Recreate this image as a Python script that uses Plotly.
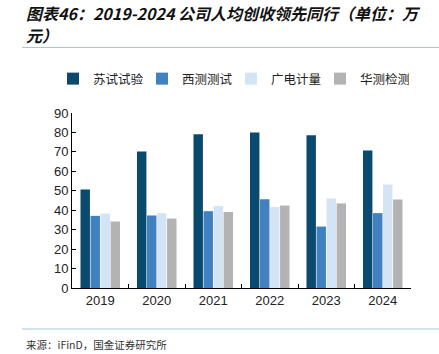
import plotly.graph_objects as go

years = ["2019", "2020", "2021", "2022", "2023", "2024"]
series_names = ["苏试试验", "西测测试", "广电计量", "华测检测"]
sushi = [50.6, 70.2, 79.1, 80.0, 78.6, 70.7]
xice = [37.1, 37.3, 39.5, 45.7, 31.6, 38.5]
guangdian = [38.3, 38.5, 42.2, 41.6, 46.0, 53.2]
huace = [34.2, 35.7, 39.1, 42.4, 43.5, 45.5]
colors = ["#0a4a6e", "#4281c0", "#d3e4f4", "#b3b3b3"]

W, H = 439, 354
L, R, T, B = 72, 28, 113, 66
pw, ph = W - L - R, H - T - B

def px(x):
    return (x - L) / pw

def py(y):
    return (H - B - y) / ph

fig = go.Figure()
for name, vals, c in zip(series_names, [sushi, xice, guangdian, huace], colors):
    fig.add_trace(go.Bar(x=years, y=vals, name=name, marker=dict(color=c, line=dict(width=0))))

fig.update_layout(
    width=W, height=H,
    margin=dict(l=L, r=R, t=T, b=B),
    paper_bgcolor="white", plot_bgcolor="white",
    barmode="group", bargap=0.29, bargroupgap=0.06,
    font=dict(family="Liberation Sans, Arial, sans-serif", size=13, color="#222"),
    legend=dict(orientation="h", x=px(53), xanchor="left", y=py(79), yanchor="middle",
                font=dict(family="Noto Sans CJK SC", size=12.5, color="#222"),
                entrywidth=44, entrywidthmode="pixels", itemwidth=30, tracegroupgap=0),
    xaxis=dict(showline=True, linecolor="black", linewidth=1, ticks="inside", tickson="boundaries",
               ticklen=4, tickcolor="black", showgrid=False,
               tickfont=dict(family="Liberation Sans, Arial", size=13, color="#222")),
    yaxis=dict(range=[0, 90], dtick=10, showline=True, linecolor="black", linewidth=1,
               ticks="inside", ticklen=4, tickcolor="black", showgrid=False, zeroline=False,
               tickfont=dict(family="Liberation Sans, Arial", size=13, color="#222")),
    shapes=[
        dict(type="line", xref="paper", yref="paper", x0=px(22), x1=px(439), y0=py(47.5), y1=py(47.5),
             line=dict(color="#a9c6dc", width=1.2)),
        dict(type="line", xref="paper", yref="paper", x0=px(22), x1=px(439), y0=py(329), y1=py(329),
             line=dict(color="#a9c6dc", width=1.2)),
    ],
    annotations=[
        dict(text="<b><i>图表46：2019-2024 公司人均创收领先同行（单位：万</i></b>", xref="paper", yref="paper",
             x=px(24), y=py(13), xanchor="left", yanchor="middle", showarrow=False,
             font=dict(family="Noto Sans CJK SC", size=16, color="#111")),
        dict(text="<b><i>元）</i></b>", xref="paper", yref="paper",
             x=px(24), y=py(35), xanchor="left", yanchor="middle", showarrow=False,
             font=dict(family="Noto Sans CJK SC", size=16, color="#111")),
        dict(text="来源：iFinD，国金证券研究所", xref="paper", yref="paper",
             x=px(24), y=py(344), xanchor="left", yanchor="middle", showarrow=False,
             font=dict(family="Noto Sans CJK SC", size=10.5, color="#333")),
    ],
)

fig.write_html("out.html")
